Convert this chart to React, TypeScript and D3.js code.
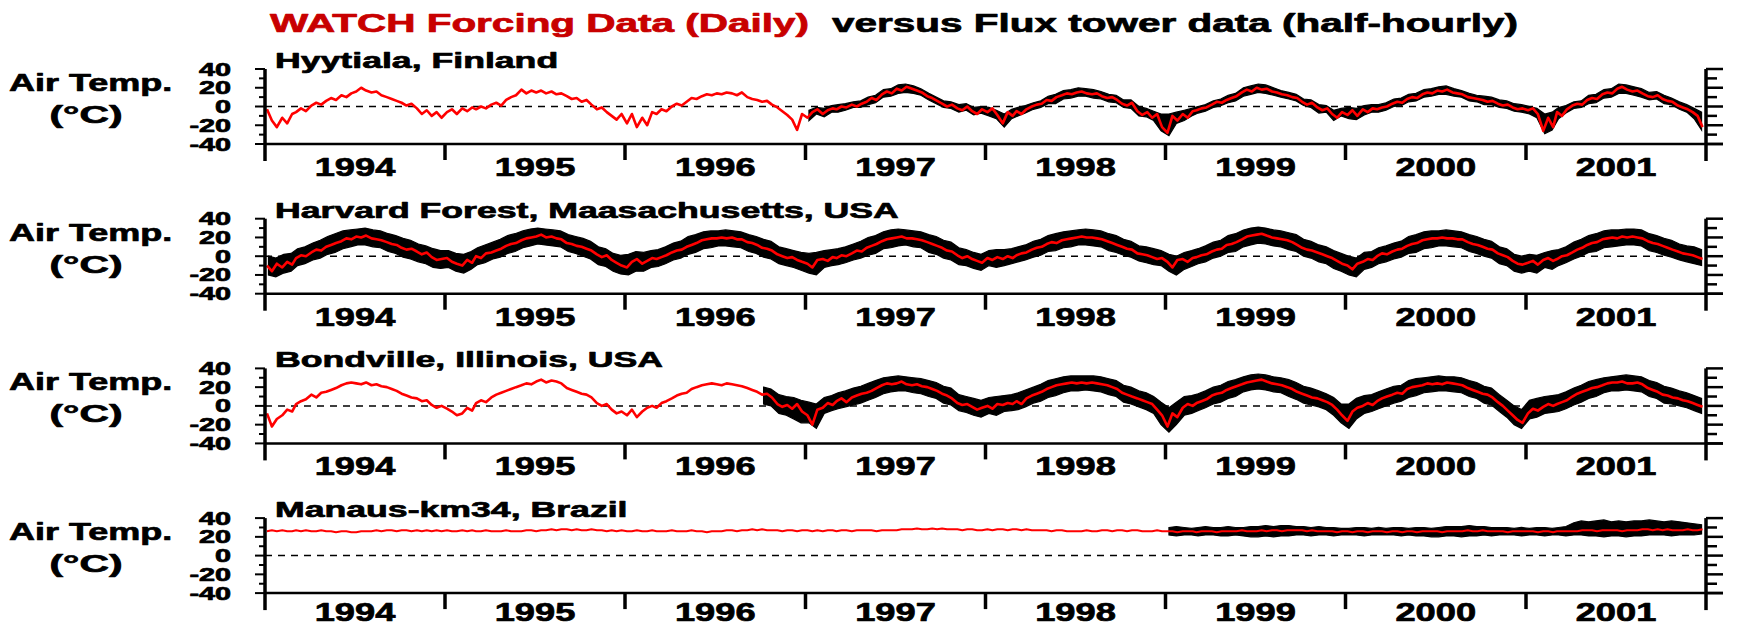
import React from 'react';
import * as d3 from 'd3';

// ---------- labels ----------
const yearLabels = ['1994', '1995', '1996', '1997', '1998', '1999', '2000', '2001'];
const yTickLabels = [40, 20, 0, -20, -40];
const yMinorTicks = [40, 30, 20, 10, 0, -10, -20, -30, -40];
const siteNames = [
  'Hyytiala, Finland',
  'Harvard Forest, Maasachusetts, USA',
  'Bondville, Illinois, USA',
  'Manaus-km34, Brazil',
];
const titleRed = 'WATCH Forcing Data (Daily)';
const titleBlack = 'versus Flux tower data (half-hourly)';

// ---------- WATCH daily (red), three values per month (1994-2001) ----------
const hyytialaWatch = [
  -3, -15, -22, -12, -18, -8, -6, -2, -5, 1, 4, 2, 6, 9, 7, 12, 10, 14, 16, 20, 17, 15, 16, 12, 10, 8, 6, 4, 1, 3, -2, -8, -4, -10, -6, -12,
  -6, -3, -8, -2, -5, -1, -3, 0, -2, 2, 4, 1, 7, 10, 12, 18, 14, 17, 15, 17, 14, 16, 13, 14, 11, 8, 9, 5, 7, 2, -3, -1, -6, -10, -14, -8,
  -18, -8, -22, -12, -20, -6, -8, -3, -5, 0, 3, 1, 5, 9, 8, 11, 13, 12, 14, 13, 15, 14, 12, 15, 10, 8, 7, 5, 6, 2, -1, -5, -9, -14, -25, -8,
  -12, -6, -3, -8, -4, -2, -3, 0, -1, 2, 0, 3, 5, 9, 7, 13, 16, 14, 19, 17, 21, 19, 17, 15, 11, 9, 6, 3, 0, 2, -2, -4, 0, -5, -8, -3,
  -6, -2, -9, -18, -6, -10, -5, -8, -3, 0, 2, 3, 7, 6, 10, 12, 14, 13, 15, 16, 14, 13, 14, 11, 9, 10, 7, 3, 1, 4, -5, -9, -6, -12, -8, -22,
  -28, -10, -15, -8, -12, -5, -4, -2, -1, 2, 5, 4, 7, 9, 11, 15, 18, 16, 20, 18, 19, 16, 15, 13, 12, 10, 9, 5, 2, 4, -1, -4, -2, -8, -12, -6,
  -9, -4, -10, -3, -6, -2, -3, -1, 0, 3, 5, 4, 8, 10, 9, 13, 15, 14, 17, 16, 18, 15, 14, 13, 10, 9, 8, 7, 5, 6, 3, 1, 2, -1, -3, -2,
  -4, -2, -8, -26, -12, -22, -6, -10, -3, 1, 3, 2, 7, 9, 8, 13, 15, 14, 19, 21, 18, 16, 17, 14, 11, 10, 12, 8, 6, 5, 1, -1, -3, -6, -10, -22,
];
const harvardWatch = [
  -10, -16, -8, -12, -6, -9, -2, 1, 0, 4, 7, 6, 10, 12, 14, 16, 19, 18, 21, 20, 22, 19, 18, 17, 15, 13, 12, 9, 7, 8, 5, 2, 4, -1, -4, -3,
  -2, -6, -8, -10, -4, -7, 0, -2, 3, 4, 6, 8, 11, 13, 14, 17, 19, 20, 21, 23, 20, 21, 19, 18, 14, 13, 11, 10, 8, 6, 2, -1, 1, -4, -7, -10,
  -12, -6, -3, -8, -5, -2, -3, -1, 1, 4, 6, 7, 10, 12, 14, 17, 18, 19, 19, 20, 19, 20, 18, 18, 15, 14, 12, 9, 8, 6, 2, 0, -2, -1, -4, -6,
  -8, -12, -4, -3, -5, -1, -2, 1, 0, 3, 6, 5, 9, 11, 13, 16, 18, 19, 20, 21, 19, 19, 18, 17, 15, 13, 11, 9, 6, 5, 1, -2, 0, -3, -5, -7,
  -2, -4, -1, -3, 0, -2, 1, 3, 4, 7, 9, 10, 13, 15, 14, 17, 18, 19, 20, 21, 20, 20, 19, 18, 16, 14, 12, 10, 8, 7, 3, 2, 1, -1, -3, -2,
  -6, -12, -4, -3, -6, -2, -1, 1, 2, 5, 7, 8, 12, 13, 15, 18, 21, 22, 23, 24, 22, 20, 19, 18, 17, 15, 12, 9, 7, 6, 4, 2, 0, -2, -5, -8,
  -10, -14, -8, -6, -3, -4, 0, 3, 2, 5, 7, 8, 11, 13, 14, 17, 18, 19, 19, 20, 19, 19, 18, 18, 15, 13, 12, 10, 8, 7, 3, 1, -1, -5, -8, -9,
  -7, -5, -9, -4, -2, -5, -3, 0, 1, 4, 7, 9, 12, 14, 15, 18, 19, 20, 19, 21, 20, 21, 20, 19, 16, 14, 13, 11, 9, 7, 5, 3, 2, 1, -1, -3,
];
const bondvilleWatch = [
  -8, -22, -14, -10, -4, -6, 2, 5, 7, 12, 9, 14, 15, 17, 19, 22, 24, 25, 24, 23, 25, 22, 23, 21, 20, 18, 16, 13, 11, 9, 8, 5, 6, 1, -2, 0,
  -3, -6, -10, -8, -2, -5, 3, 6, 4, 9, 12, 14, 16, 18, 20, 22, 24, 23, 26, 28, 25, 27, 26, 24, 19, 17, 15, 13, 12, 9, 3, 0, 2, -4, -8, -6,
  -10, -4, -12, -6, -2, 0, -2, 3, 5, 8, 11, 13, 14, 18, 20, 22, 23, 24, 23, 22, 24, 23, 22, 21, 19, 17, 15, 12, 13, 9, 2, -1, 1, -3, 2, -6,
  -10, -20, -4, -2, 3, 1, 5, 8, 4, 9, 11, 13, 14, 16, 19, 22, 24, 23, 24, 26, 23, 22, 23, 21, 20, 18, 16, 13, 11, 8, 3, 1, 2, -1, -4, -2,
  0, -3, 2, 1, 3, 2, 5, 2, 8, 11, 13, 15, 18, 20, 22, 23, 24, 25, 24, 25, 24, 25, 24, 23, 22, 20, 18, 14, 12, 10, 8, 6, 4, 2, -4, -10,
  -22, -8, -12, -2, 2, 0, 3, 5, 7, 11, 13, 14, 17, 19, 21, 23, 25, 26, 27, 28, 26, 24, 23, 22, 20, 18, 15, 13, 11, 9, 8, 6, 4, 1, -4, -10,
  -16, -6, -2, 0, 3, 1, 5, 8, 10, 12, 14, 13, 18, 20, 21, 22, 24, 23, 24, 23, 25, 24, 23, 22, 19, 17, 15, 13, 12, 9, 4, 0, -5, -10, -15, -18,
  -8, -3, -5, -1, 2, 0, 2, 4, 6, 10, 13, 15, 17, 19, 20, 22, 24, 25, 25, 26, 24, 24, 25, 23, 19, 17, 15, 12, 11, 9, 8, 6, 5, 3, 1, -1,
];
const manausWatch = [
  26, 27, 26, 27, 26, 26, 27, 26, 27, 26, 26, 27, 26, 26, 25, 26, 26, 25, 25, 26, 26, 26, 27, 26, 27, 27, 26, 27, 27, 26, 27, 26, 27, 26, 27, 26,
  27, 26, 26, 27, 26, 27, 26, 26, 27, 26, 26, 26, 27, 26, 26, 26, 27, 27, 26, 27, 27, 28, 27, 28, 28, 27, 28, 27, 27, 28, 27, 27, 26, 27, 26, 27,
  26, 26, 27, 26, 26, 27, 26, 26, 26, 27, 26, 26, 26, 27, 26, 26, 25, 26, 26, 26, 27, 27, 26, 27, 27, 28, 27, 28, 27, 27, 27, 26, 27, 27, 26, 27,
  27, 26, 27, 26, 27, 27, 26, 27, 27, 26, 27, 27, 27, 27, 26, 27, 27, 27, 27, 28, 28, 28, 29, 28, 28, 29, 28, 29, 28, 28, 28, 27, 28, 28, 27, 27,
  28, 27, 28, 28, 27, 28, 28, 27, 28, 27, 27, 27, 27, 26, 27, 27, 26, 26, 26, 26, 27, 26, 26, 27, 27, 26, 27, 27, 26, 27, 27, 26, 26, 26, 27, 26,
  26, 26, 25, 26, 26, 26, 25, 26, 26, 26, 25, 26, 26, 26, 26, 27, 26, 26, 26, 27, 26, 27, 27, 26, 27, 27, 27, 27, 26, 27, 26, 26, 26, 26, 25, 26,
  26, 25, 26, 26, 25, 26, 26, 26, 25, 26, 26, 25, 26, 26, 25, 26, 26, 26, 26, 25, 26, 26, 26, 26, 27, 26, 26, 27, 26, 26, 26, 26, 25, 26, 26, 26,
  26, 26, 25, 26, 26, 25, 26, 26, 26, 26, 26, 27, 27, 27, 26, 27, 27, 27, 27, 26, 27, 27, 27, 28, 28, 27, 28, 27, 28, 27, 27, 27, 28, 27, 27, 28,
];

// ---------- Flux tower (black), half-monthly high / low envelopes ----------
const hyytialaTowerStart = [1997, 0];
const hyytialaTowerHi = [
  -4, -1, -2, 1, 2, 3, 5, 6, 10, 12, 18, 19, 23, 24, 22, 19, 14, 10, 6, 5, 2, 3, -1, 0,
  -1, -4, -8, -3, -1, 1, 4, 6, 11, 13, 17, 18, 20, 19, 18, 16, 13, 12, 7, 7, 0, -2, -5, -8,
  -8, -6, -4, -2, 0, 2, 6, 8, 12, 14, 20, 22, 24, 23, 20, 17, 15, 13, 8, 7, 2, 1, -4, -2,
  -1, -2, 1, 2, 2, 4, 8, 9, 13, 14, 18, 19, 21, 22, 19, 17, 14, 12, 11, 10, 7, 6, 3, 2,
  0, -2, -8, -6, -1, 1, 5, 6, 12, 13, 18, 19, 24, 23, 21, 19, 15, 16, 12, 9, 5, 2, -2, -6,
];
const hyytialaTowerLo = [
  -15, -8, -11, -6, -6, -4, -1, -1, 2, 4, 10, 11, 14, 15, 14, 12, 7, 3, -1, -2, -6, -4, -9, -7,
  -10, -13, -22, -13, -10, -7, -3, -1, 3, 3, 8, 9, 11, 11, 9, 8, 5, 4, -1, -2, -10, -11, -15, -26,
  -31, -18, -15, -10, -7, -5, -1, 1, 4, 6, 11, 13, 15, 14, 12, 10, 8, 6, 1, -1, -7, -6, -15, -10,
  -13, -14, -9, -6, -6, -4, 0, 1, 5, 6, 10, 11, 13, 13, 11, 10, 6, 5, 2, 2, -1, -2, -5, -6,
  -8, -12, -29, -25, -13, -7, -2, -1, 3, 4, 9, 10, 14, 14, 12, 10, 7, 8, 3, 2, -3, -6, -13, -25,
];
const harvardTowerStart = [1994, 0];
const harvardTowerHi = [
  0, -2, 2, 3, 8, 10, 14, 17, 21, 24, 27, 28, 29, 30, 28, 27, 24, 22, 19, 17, 13, 11, 8, 6,
  6, 3, 2, 5, 9, 12, 15, 18, 22, 24, 27, 29, 30, 29, 28, 27, 23, 21, 19, 16, 10, 8, 3, 1,
  2, 5, 4, 6, 7, 10, 14, 16, 21, 23, 26, 27, 27, 28, 27, 26, 23, 21, 18, 16, 10, 8, 6, 4,
  3, 4, 6, 7, 8, 10, 13, 16, 20, 22, 26, 28, 29, 28, 27, 26, 23, 21, 17, 15, 9, 7, 4, 2,
  6, 7, 7, 8, 10, 12, 16, 18, 22, 24, 26, 27, 28, 29, 28, 27, 24, 22, 18, 16, 11, 10, 8, 6,
  2, 0, 4, 6, 8, 11, 15, 17, 22, 24, 28, 30, 31, 30, 28, 27, 25, 23, 18, 16, 12, 10, 6, 3,
  0, -2, 4, 5, 9, 11, 14, 16, 21, 23, 26, 27, 27, 28, 27, 26, 23, 21, 18, 16, 10, 8, 2, 0,
  2, 1, 4, 6, 7, 10, 15, 18, 22, 24, 27, 28, 28, 29, 29, 28, 24, 22, 19, 17, 13, 11, 10, 7,
];
const harvardTowerLo = [
  -20, -22, -18, -16, -10, -8, -4, -2, 2, 4, 8, 10, 12, 12, 10, 9, 5, 3, -1, -3, -6, -8, -12, -13,
  -12, -16, -18, -14, -9, -7, -3, -1, 3, 5, 9, 11, 13, 12, 11, 10, 5, 3, 0, -3, -9, -11, -16, -19,
  -20, -16, -16, -12, -11, -8, -4, -2, 2, 4, 8, 9, 11, 11, 10, 9, 5, 3, -1, -3, -8, -10, -12, -15,
  -18, -20, -12, -10, -9, -7, -4, -2, 1, 3, 8, 9, 11, 12, 10, 9, 4, 2, -2, -4, -9, -10, -13, -15,
  -10, -12, -10, -8, -6, -4, -1, 1, 5, 6, 9, 10, 12, 12, 11, 10, 6, 4, 1, -1, -5, -7, -9, -10,
  -16, -20, -14, -11, -8, -6, -2, 0, 4, 5, 10, 12, 14, 13, 11, 10, 7, 5, 0, -2, -6, -8, -13, -16,
  -20, -22, -14, -12, -8, -6, -3, -1, 3, 4, 8, 9, 11, 11, 10, 9, 5, 3, 0, -2, -8, -10, -16, -18,
  -16, -18, -12, -14, -10, -7, -3, 0, 4, 5, 9, 10, 11, 12, 12, 11, 6, 4, 1, -1, -4, -6, -8, -10,
];
const bondvilleTowerStart = [1996, 9];
const bondvilleTowerHi = [
  20, 18, 12, 10, 9, 6,
  4, 2, 9, 11, 14, 16, 19, 21, 24, 27, 30, 31, 32, 31, 30, 29, 27, 25, 21, 19, 12, 10, 8, 6,
  9, 10, 11, 12, 14, 17, 20, 23, 27, 29, 31, 32, 32, 32, 32, 31, 29, 27, 22, 20, 16, 14, 10, 4,
  -2, 4, 10, 11, 13, 16, 20, 22, 26, 28, 31, 33, 34, 33, 31, 30, 28, 25, 21, 19, 16, 13, 9, 2,
  2, 8, 11, 12, 15, 18, 21, 22, 27, 29, 30, 31, 32, 31, 31, 30, 27, 25, 21, 19, 12, 6, 0, -4,
  6, 8, 10, 11, 12, 15, 19, 22, 26, 28, 30, 31, 32, 33, 32, 31, 27, 25, 21, 19, 16, 14, 11, 8,
];
const bondvilleTowerLo = [
  2, 0, -8, -10, -14, -18,
  -18, -24, -8, -5, -3, -1, 1, 3, 6, 9, 13, 15, 16, 16, 14, 13, 10, 8, 3, 1, -5, -7, -10, -12,
  -8, -10, -6, -5, -4, -1, 3, 5, 9, 11, 14, 16, 16, 17, 16, 15, 12, 10, 4, 2, -1, -4, -8, -20,
  -28, -20, -10, -8, -5, -2, 2, 4, 8, 10, 15, 17, 18, 17, 15, 14, 10, 7, 3, 1, -1, -4, -10, -18,
  -24, -14, -8, -6, -3, 0, 3, 5, 9, 11, 14, 15, 16, 16, 15, 14, 10, 8, 3, 1, -6, -12, -20, -24,
  -14, -12, -8, -7, -6, -3, 1, 4, 8, 10, 14, 16, 16, 17, 16, 15, 10, 8, 3, 2, 0, -2, -5, -8,
];
const manausTowerStart = [1999, 0];
const manausTowerHi = [
  30, 31, 30, 29, 30, 31, 30, 30, 31, 30, 30, 31, 31, 32, 31, 32, 32, 31, 31, 30, 31, 30, 30, 29,
  29, 30, 30, 29, 30, 29, 30, 30, 29, 30, 30, 29, 30, 31, 31, 31, 32, 31, 31, 30, 30, 30, 29, 30,
  29, 30, 30, 29, 30, 31, 35, 37, 36, 37, 38, 36, 37, 36, 37, 37, 38, 37, 36, 37, 36, 35, 34, 33,
];
const manausTowerLo = [
  22, 21, 22, 22, 21, 22, 22, 21, 21, 22, 21, 20, 20, 21, 20, 21, 21, 22, 22, 21, 22, 22, 21, 22,
  22, 22, 21, 22, 22, 22, 22, 21, 22, 21, 21, 20, 20, 21, 21, 20, 21, 21, 22, 21, 22, 22, 22, 21,
  22, 22, 21, 22, 22, 21, 22, 22, 21, 21, 20, 21, 21, 20, 21, 21, 22, 22, 22, 21, 22, 22, 22, 23,
];

const sites = [
  { name: siteNames[0], watch: hyytialaWatch, start: hyytialaTowerStart, hi: hyytialaTowerHi, lo: hyytialaTowerLo },
  { name: siteNames[1], watch: harvardWatch, start: harvardTowerStart, hi: harvardTowerHi, lo: harvardTowerLo },
  { name: siteNames[2], watch: bondvilleWatch, start: bondvilleTowerStart, hi: bondvilleTowerHi, lo: bondvilleTowerLo },
  { name: siteNames[3], watch: manausWatch, start: manausTowerStart, hi: manausTowerHi, lo: manausTowerLo },
];

const dekadDate = (k: number) =>
  new Date(1994 + Math.floor(k / 36), Math.floor((k % 36) / 3), [5, 15, 25][k % 3]);
const halfMonthDate = (start: number[], j: number) =>
  new Date(start[0], start[1] + Math.floor(j / 2), j % 2 === 0 ? 8 : 23);

const FONT = "'Liberation Sans', Arial, Helvetica, sans-serif";

const T = ({ x, y, sx, size, anchor = 'start', fill = '#000', children }: any) => (
  <text
    transform={`translate(${x},${y}) scale(${sx},1)`}
    fontSize={size}
    fontWeight="bold"
    fontFamily={FONT}
    textAnchor={anchor}
    fill={fill}
    stroke={fill}
    strokeWidth={0.7}
    strokeLinejoin="round"
  >
    {children}
  </text>
);

export default function App() {
  const W = 1740;
  const H = 627;
  const x = d3
    .scaleTime()
    .domain([new Date(1994, 0, 1), new Date(2002, 0, 1)])
    .range([265, 1706]);
  const yearStarts = d3.range(1994, 2003).map((yr) => new Date(yr, 0, 1));

  return (
    <div style={{ position: 'absolute', left: 0, top: 0 }}>
      <svg width={W} height={H} style={{ display: 'block', background: '#fff' }}>
        <rect x={0} y={0} width={W} height={H} fill="#fff" />
        <T x={270} y={32} sx={1.62} size={25} fill="#c80000">{titleRed}</T>
        <T x={832} y={32} sx={1.62} size={25}>{titleBlack}</T>

        {sites.map((s, i) => {
          const top = 69 + i * 149.7;
          const bottom = top + 75;
          const y = d3.scaleLinear().domain([-40, 40]).range([bottom, top]);
          const watchPts = s.watch.map((v, k) => [dekadDate(k), v] as [Date, number]);
          const towerPts = s.hi.map((v, j) => [halfMonthDate(s.start, j), v, s.lo[j]] as [Date, number, number]);
          const line = d3
            .line<[Date, number]>()
            .x((d) => x(d[0]))
            .y((d) => y(d[1]));
          const area = d3
            .area<[Date, number, number]>()
            .x((d) => x(d[0]))
            .y1((d) => y(d[1]))
            .y0((d) => y(d[2]));
          const xl = x.range()[0];
          const xr = x.range()[1];
          const labelY = Math.min(bottom + 32, H - 6);
          return (
            <g key={i}>
              <line x1={xl} x2={xr} y1={y(0)} y2={y(0)} stroke="#000" strokeWidth={1.5} strokeDasharray="7 6" />
              <path d={area(towerPts) || ''} fill="#000" stroke="#000" strokeWidth={1.2} />
              <path d={line(watchPts) || ''} fill="none" stroke="#ff0000" strokeWidth={i === 3 ? 2 : 2.6} strokeLinejoin="round" />
              <line x1={xl} x2={xr + 17} y1={bottom} y2={bottom} stroke="#000" strokeWidth={2.5} />
              <line x1={xl} x2={xl} y1={top} y2={bottom + 17} stroke="#000" strokeWidth={3.5} />
              <line x1={xr} x2={xr} y1={top} y2={bottom + 17} stroke="#000" strokeWidth={3.5} />
              {yearStarts.slice(1, -1).map((d, k) => (
                <line key={k} x1={x(d)} x2={x(d)} y1={bottom} y2={bottom + 16} stroke="#000" strokeWidth={3.5} />
              ))}
              {yMinorTicks.map((v, k) => {
                const major = v % 20 === 0;
                return (
                  <g key={k}>
                    <line x1={xl - (major ? 10 : 6)} x2={xl} y1={y(v)} y2={y(v)} stroke="#000" strokeWidth={2} />
                    <line x1={xr} x2={xr + (major ? 17 : 11)} y1={y(v)} y2={y(v)} stroke="#000" strokeWidth={2.5} />
                  </g>
                );
              })}
              {yTickLabels.map((v, k) => (
                <T key={k} x={231} y={y(v) + 6.5} sx={1.6} size={18} anchor="end">{v}</T>
              ))}
              {yearLabels.map((lab, k) => (
                <T key={k} x={(x(yearStarts[k]) + x(yearStarts[k + 1])) / 2} y={labelY} sx={1.45} size={25} anchor="middle">
                  {lab}
                </T>
              ))}
              <T x={275} y={top - 1} sx={1.62} size={22}>{s.name}</T>
              <T x={9} y={top + 22} sx={1.5} size={24}>Air Temp.</T>
              <T x={86} y={top + 54} sx={1.7} size={24} anchor="middle">(°C)</T>
            </g>
          );
        })}
      </svg>
    </div>
  );
}
